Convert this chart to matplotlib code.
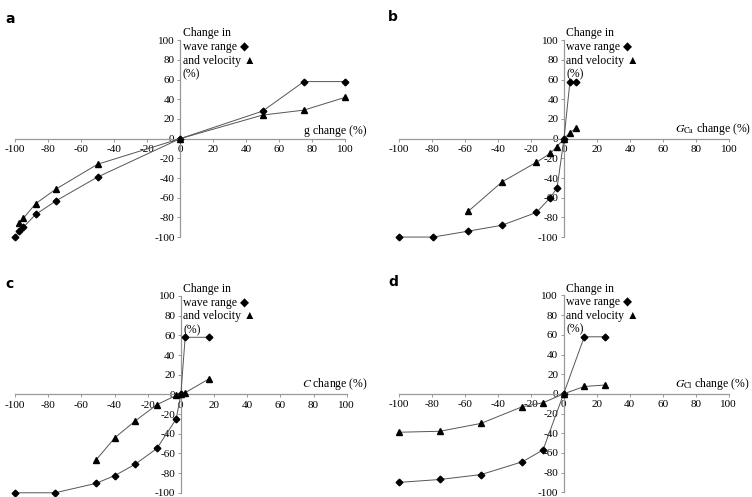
import numpy as np
import matplotlib
matplotlib.use("Agg")
import matplotlib.pyplot as plt

plt.rcParams['font.family'] = ['Liberation Serif', 'DejaVu Sans']
plt.rcParams['mathtext.fontset'] = 'stix'
plt.rcParams['axes.unicode_minus'] = False

# panel a: g change
a_dx = [-100, -97.5, -95, -87.5, -75, -50, 0, 50, 75, 100]
a_dy = [-100, -94, -90, -77, -63, -39, 0, 28, 58, 58]
a_tx = [-97.5, -95, -87.5, -75, -50, 0, 50, 75, 100]
a_ty = [-86, -81, -66, -51, -26, 0, 24, 29, 42]

# panel b: G_Ca change
b_dx = [-100, -79, -58, -37.5, -16.7, -8.3, -4.2, 0, 3.6, 7.5]
b_dy = [-100, -100, -94, -88, -75, -60, -50, 0, 58, 58]
b_tx = [-58, -37.5, -16.7, -8.3, -4.2, 0, 3.6, 7.5]
b_ty = [-74, -44, -24, -15, -8, 0, 6, 11]

# panel c: C change
c_dx = [-100, -75.8, -51.3, -39.8, -27.5, -14.5, -2.8, 0, 2.6, 16.7]
c_dy = [-100, -100, -90.5, -82.5, -71, -55, -25, 0, 58, 58]
c_tx = [-51.3, -39.8, -27.5, -14.5, -2.8, 0, 2.6, 16.7]
c_ty = [-67, -44, -27, -10.5, -1, 0, 1.7, 15.5]

# panel d: G_Cl change
d_dx = [-100, -75, -50, -25, -12.5, 0, 12.5, 25]
d_dy = [-90, -87, -82, -69, -57, 0, 58, 58]
d_tx = [-100, -75, -50, -25, -12.5, 0, 12.5, 25]
d_ty = [-39, -38, -30, -13, -9, 0, 7.5, 9]

panels = [
    ('a', a_dx, a_dy, a_tx, a_ty, 'g change (%)', [0.020, 0.523, 0.439, 0.396], (0.007, 0.976)),
    ('b', b_dx, b_dy, b_tx, b_ty, r'$G_{\mathrm{Ca}}$ change (%)', [0.530, 0.523, 0.440, 0.396], (0.516, 0.980)),
    ('c', c_dx, c_dy, c_tx, c_ty, r'$C$ change (%)', [0.020, 0.0085, 0.441, 0.396], (0.007, 0.443)),
    ('d', d_dx, d_dy, d_tx, d_ty, r'$G_{\mathrm{Cl}}$ change (%)', [0.530, 0.0095, 0.439, 0.396], (0.516, 0.447)),
]

fig = plt.figure(figsize=(7.52, 4.97), dpi=100)

for letter, dx, dy, tx, ty, xlab, pos, lpos in panels:
    ax = fig.add_axes(pos)
    ax.plot(dx, dy, color='#555555', lw=0.7, marker='D', ms=3.4,
            mfc='black', mec='black', zorder=3, clip_on=False)
    ax.plot(tx, ty, color='#555555', lw=0.7, marker='^', ms=4.8,
            mfc='black', mec='black', zorder=3, clip_on=False)
    ax.set_xlim(-100, 100)
    ax.set_ylim(-100, 100)
    for s in ['top', 'right']:
        ax.spines[s].set_visible(False)
    for s in ['left', 'bottom']:
        ax.spines[s].set_position('zero')
        ax.spines[s].set_color('#999999')
        ax.spines[s].set_linewidth(0.9)
    ax.set_xticks(np.arange(-100, 101, 20))
    ax.set_yticks(np.arange(-100, 101, 20))
    ax.tick_params(axis='both', direction='out', length=2.5, width=0.7,
                   color='#999999', labelsize=8, pad=1.5)
    ax.tick_params(axis='x', pad=2)
    ax.patch.set_visible(False)
    ax.text(113, 2, xlab, ha='right', va='bottom', fontsize=8.5, clip_on=False)
    ax.text(1.5, 113, 'Change in\nwave range \u25c6\nand velocity \u25b2\n(%)',
            ha='left', va='top', fontsize=8.5, linespacing=1.18, clip_on=False)
    fig.text(lpos[0], lpos[1], letter, family='DejaVu Sans', weight='bold',
             fontsize=10, ha='left', va='top')

fig.savefig('out.png', dpi=100)
